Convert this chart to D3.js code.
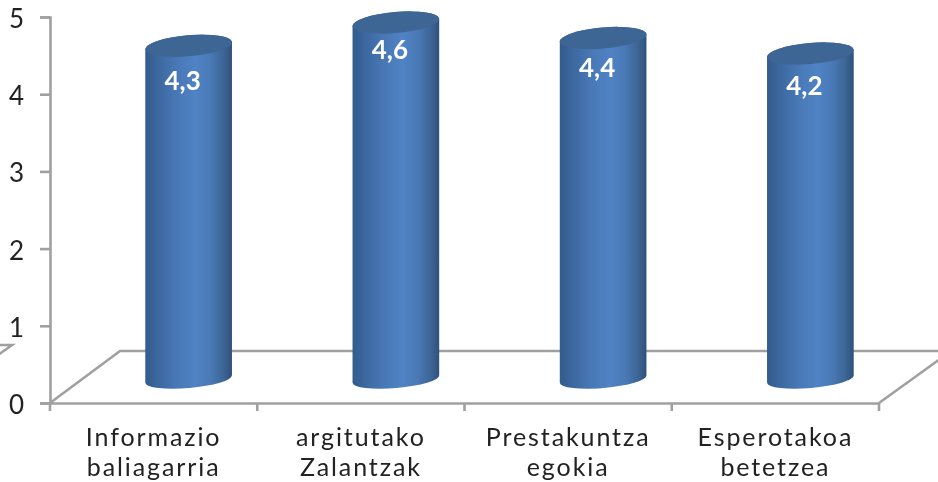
<!DOCTYPE html>
<html><head><meta charset="utf-8">
<script src="https://cdnjs.cloudflare.com/ajax/libs/d3/7.8.5/d3.min.js"></script>
<style>html,body{margin:0;padding:0;background:#fff;overflow:hidden}svg{display:block}text{font-family:Lato,"Noto Sans",sans-serif}</style>
</head><body><svg id="c" width="938" height="482"></svg>
<script>
const categories = [["Informazio","baliagarria"],["argitutako","Zalantzak"],["Prestakuntza","egokia"],["Esperotakoa","betetzea"]];
const values = [4.3,4.6,4.4,4.2];
const valueLabels = ["4,3","4,6","4,4","4,2"];
const yTicks = [0,1,2,3,4,5];

const W=938,H=482;
const x0=50,x1=879,yFront=403,yTop=17;
const depthX=70,depthY=52;      // floor depth
const barDX=35,barBase=379,barUnit=77.5; // cylinder offset into the floor
const rx=43.5,ryTop=10.5,ryBot=9,tilt=-5;
const labelDrop=[35,27.5,30,32.5];

const svg=d3.select("#c");
const defs=svg.append("defs");
const f=defs.append("filter").attr("id","soft").attr("x","-5%").attr("y","-5%").attr("width","110%").attr("height","110%");
f.append("feGaussianBlur").attr("stdDeviation",0.5);
const g=defs.append("linearGradient").attr("id","cyl");
[[0,"#335b8c"],[0.15,"#3c689f"],[0.35,"#4877b5"],[0.58,"#5083c5"],[0.75,"#4a79b6"],[0.9,"#3d6696"],[1,"#30517b"]]
 .forEach(([o,c])=>g.append("stop").attr("offset",o).attr("stop-color",c));

const root=svg.append("g").attr("filter","url(#soft)");
const x=d3.scaleBand().domain(categories.map((d,i)=>i)).range([x0,x1]).paddingInner(0).paddingOuter(0);
const y=d3.scaleLinear().domain([0,5]).range([yFront,yTop]);
const h=d3.scaleLinear().domain([0,5]).range([barBase,barBase-5*barUnit]);

const axisCol="#a0a0a0", lw=2.6;
// floor
const floor=root.append("g").attr("fill","none").attr("stroke",axisCol).attr("stroke-width",lw);
floor.append("path").attr("d",d3.line()([[x0,yFront],[x0+depthX,yFront-depthY],[W+4,yFront-depthY]]));
floor.append("path").attr("d",d3.line()([[x1,yFront],[W+2,yFront-44]]));
floor.append("path").attr("d",d3.line()([[-2,355],[12,345],[0,345]]));

// y axis
const ya=root.append("g").attr("transform",`translate(${x0},0)`)
 .call(d3.axisLeft(y).tickValues(yTicks).tickSize(10).tickPadding(16).tickFormat(d3.format("d")));
ya.selectAll("path,line").attr("stroke",axisCol).attr("stroke-width",lw);
ya.selectAll("text").attr("font-size",26).attr("fill","#222").attr("dy","0.4em");

// x axis
const xa=root.append("g").attr("transform",`translate(0,${yFront})`)
 .call(d3.axisBottom(x).tickSize(0).tickFormat(""));
xa.select("path").attr("stroke",axisCol).attr("stroke-width",lw);
xa.selectAll(".tick").select("text").remove();
xa.selectAll("line.sep").data(d3.range(categories.length+1)).enter().append("line")
 .attr("class","sep").attr("x1",i=>x0+i*x.step()).attr("x2",i=>x0+i*x.step()).attr("y1",0).attr("y2",8)
 .attr("stroke",axisCol).attr("stroke-width",lw);

const rad=tilt*Math.PI/180;
function body(cx,t,b){
  const dx=rx*Math.cos(rad),dy=rx*Math.sin(rad);
  return `M${cx-dx},${t-dy}A${rx},${ryTop} ${tilt} 0 1 ${cx+dx},${t+dy}L${cx+dx},${b+dy}A${rx},${ryBot} ${tilt} 0 1 ${cx-dx},${b-dy}Z`;
}
const bars=root.append("g").selectAll("g").data(values).enter().append("g");
const cxOf=i=>x(i)+x.bandwidth()/2+barDX;
bars.append("path").attr("d",(d,i)=>body(cxOf(i),h(d),h(0))).attr("fill","url(#cyl)");
bars.append("ellipse").attr("rx",rx).attr("ry",ryTop)
 .attr("transform",(d,i)=>`translate(${cxOf(i)},${h(d)}) rotate(${tilt})`)
 .attr("fill","#3e6694");
bars.append("text").text((d,i)=>valueLabels[i]).attr("x",(d,i)=>cxOf(i)-6).attr("y",(d,i)=>h(d)+labelDrop[i])
 .attr("dy","0.36em").attr("text-anchor","middle").attr("font-size",26).attr("font-weight",700).attr("fill","#fff");

// category labels
const cat=root.append("g").selectAll("text").data(categories).enter().append("text")
 .attr("text-anchor","middle").attr("font-size",25).attr("letter-spacing",1.9).attr("fill","#222");
cat.selectAll("tspan").data((d,i)=>d.map(s=>({s,i}))).enter().append("tspan")
 .attr("x",d=>x(d.i)+x.bandwidth()/2).attr("y",(d,j)=>446+j*30.2).text(d=>d.s);
</script></body></html>
